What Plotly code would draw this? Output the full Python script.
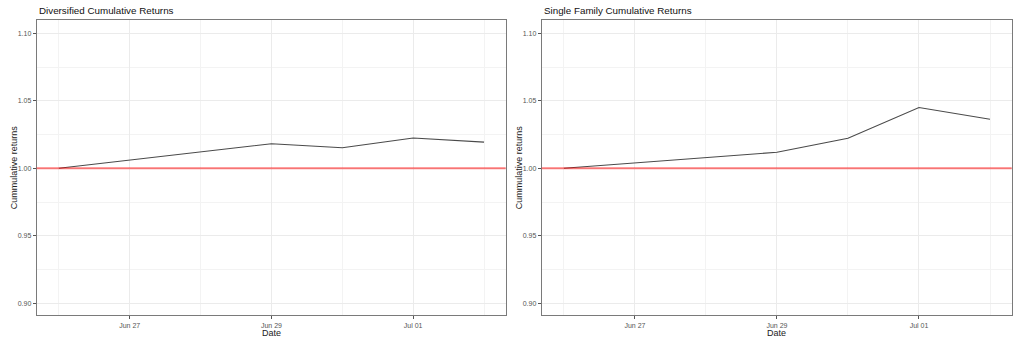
import plotly.graph_objects as go

# ---- data ----
dates = ["2020-06-26", "2020-06-29", "2020-06-30", "2020-07-01", "2020-07-02"]
diversified = [1.000, 1.0182, 1.0153, 1.0225, 1.0194]
single_family = [1.000, 1.0119, 1.0223, 1.0451, 1.0364]
baseline = 1.00
titles = ["Diversified Cumulative Returns", "Single Family Cumulative Returns"]
y_ticks = [0.90, 0.95, 1.00, 1.05, 1.10]
x_title = "Date"
y_title = "Cummulative returns"

W, H = 1021, 340
panels = [(36.7, 505.7), (541.7, 1011.7)]
top_px, bot_px = 20, 315.3
x_range = ["2020-06-25 16:30", "2020-07-02 07:20"]
y_range = [0.891, 1.11]

fig = go.Figure()

series = [diversified, single_family]
for i, (vals, (l, r)) in enumerate(zip(series, panels)):
    sfx = "" if i == 0 else str(i + 1)
    fig.add_trace(go.Scatter(x=dates, y=vals, mode="lines",
                             line=dict(color="#4a4a4a", width=1.1),
                             xaxis="x" + sfx, yaxis="y" + sfx, showlegend=False))
    axis_common = dict(showline=True, mirror=True, linecolor="#7a7a7a", linewidth=1,
                       ticks="outside", ticklen=3, tickwidth=0.6, tickcolor="#555",
                       tickfont=dict(family="Liberation Sans, Arial", size=7, color="#555"),
                       gridcolor="#EBEBEB", gridwidth=1, zeroline=False)
    fig.layout["xaxis" + sfx] = dict(
        axis_common, domain=[l / W, r / W], anchor="y" + sfx, type="date",
        range=x_range, tick0="2020-06-27", dtick=2 * 86400000, tickformat="%b %d",
        minor=dict(showgrid=True, gridcolor="#F3F3F3", gridwidth=0.8,
                   tick0="2020-06-26", dtick=2 * 86400000))
    fig.layout["yaxis" + sfx] = dict(
        axis_common, domain=[1 - bot_px / H, 1 - top_px / H], anchor="x" + sfx,
        range=y_range, tickvals=y_ticks, tickformat=".2f",
        minor=dict(showgrid=True, gridcolor="#F3F3F3", gridwidth=0.8,
                   tick0=0.925, dtick=0.05))
    fig.add_shape(type="line", xref="x" + sfx + " domain", yref="y" + sfx,
                  x0=0, x1=1, y0=baseline, y1=baseline,
                  line=dict(color="rgba(255,0,0,0.5)", width=2), layer="above")
    # panel title
    fig.add_annotation(text=titles[i], xref="paper", yref="paper",
                       x=l / W, y=1 - 10 / H, xanchor="left", yanchor="middle",
                       showarrow=False,
                       font=dict(family="Liberation Sans, Arial", size=9.8, color="#111"))
    # x title
    fig.add_annotation(text=x_title, xref="paper", yref="paper",
                       x=(l + r) / 2 / W, y=1 - 333 / H, xanchor="center", yanchor="middle",
                       showarrow=False,
                       font=dict(family="Liberation Sans, Arial", size=9, color="#222"))
    # y title
    fig.add_annotation(text=y_title, xref="paper", yref="paper", textangle=-90,
                       x=(l - 23) / W, y=1 - (top_px + bot_px) / 2 / H,
                       xanchor="center", yanchor="middle", showarrow=False,
                       font=dict(family="Liberation Sans, Arial", size=9, color="#222"))

fig.update_layout(width=W, height=H, margin=dict(l=0, r=0, t=0, b=0),
                  paper_bgcolor="white", plot_bgcolor="white", showlegend=False)

fig.write_html("out.html")
